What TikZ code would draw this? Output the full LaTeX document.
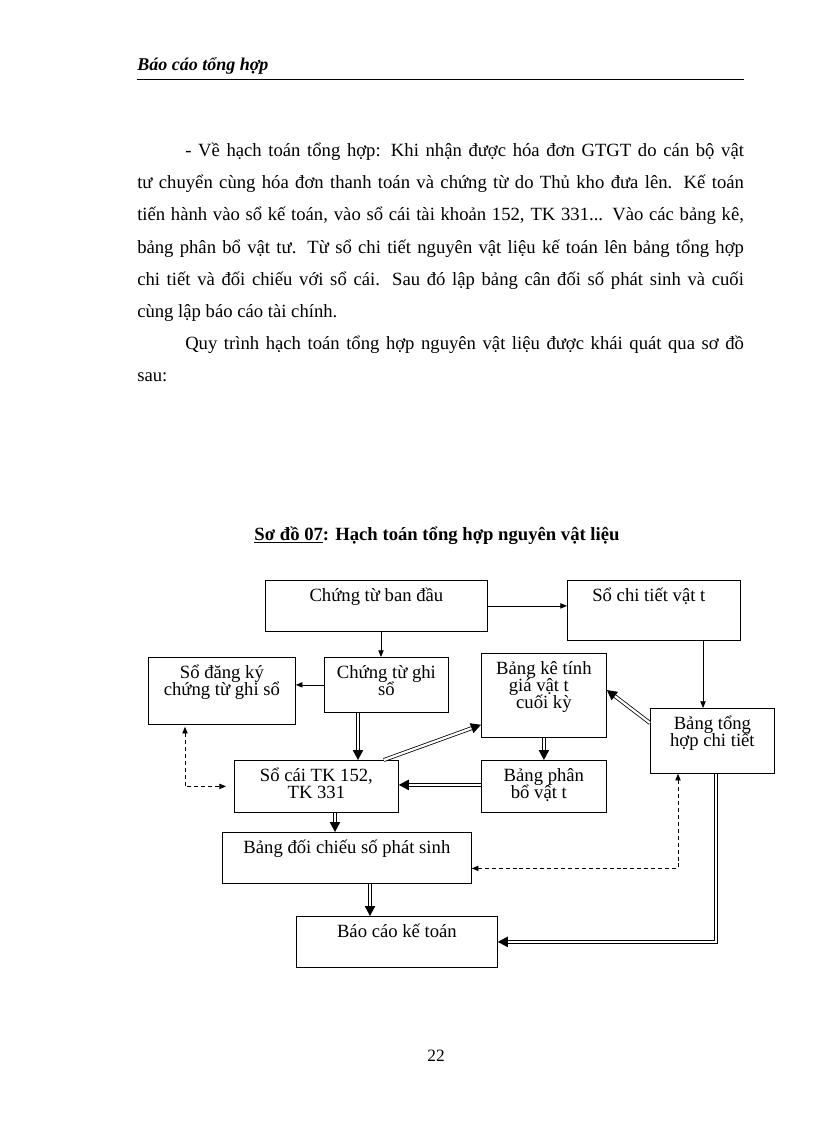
\documentclass[tikz,border=0pt]{standalone}
\usepackage{fontspec}
\setmainfont{Liberation Serif}
\usetikzlibrary{arrows.meta,calc,decorations.markings}

% text of a box, set from the top edge down
\newcommand{\boxtxt}[3]{\parbox[c][#2][t]{#1}{\centering\fontsize{14pt}{12.75pt}\selectfont
  \lineskiplimit=-\maxdimen \rule{0pt}{15.75pt}#3\par}}
% the lost letter still takes its room
\newcommand{\lost}{\hphantom{ư}}

\begin{document}
\begin{tikzpicture}[x=0.75pt,y=-0.75pt,
  every node/.style={inner sep=0pt,font=\fontsize{14pt}{16pt}\selectfont},
  box/.style={draw,line width=0.6pt,anchor=north west},
  sgl/.style={line width=0.6pt,-{Triangle[length=5pt,width=4pt]}},
  dsh/.style={line width=0.6pt,dash pattern=on 3pt off 2.2pt,
    {Triangle[length=5pt,width=4pt]}-{Triangle[length=5pt,width=4pt]}},
  dbl/.style={line width=0.6pt,double,double distance=1.7pt,shorten >=6pt,
    postaction={decorate},decoration={markings,mark=at position 1 with
      {\fill[shorten >=0pt,shorten <=0pt] (0,0) -- (-7.5pt,4pt) -- (-7.5pt,-4pt) -- cycle;}}}]
\useasboundingbox (0,0) rectangle (816,1123);
% page head
\node[anchor=base west,font=\fontsize{13.5pt}{16pt}\selectfont\bfseries\itshape] (hdr) at (137,71) {Báo cáo tổng hợp};
\draw[line width=0.6pt] (137,79) -- (744,79);
% text
\node[anchor=base west] (body) at (137,156.7) {\parbox[t]{455pt}{\fontsize{14pt}{24.1pt}\selectfont
\hspace*{36pt}\makebox[419pt][s]{- Về hạch toán tổng hợp: Khi nhận được hóa đơn GTGT do cán bộ vật}\\
\makebox[455pt][s]{tư chuyển cùng hóa đơn thanh toán và chứng từ do Thủ kho đưa lên. Kế toán}\\
\makebox[455pt][s]{tiến hành vào sổ kế toán, vào sổ cái tài khoản 152, TK 331... Vào các bảng kê,}\\
\makebox[455pt][s]{bảng phân bổ vật tư. Từ sổ chi tiết nguyên vật liệu kế toán lên bảng tổng hợp}\\
\makebox[455pt][s]{chi tiết và đối chiếu với sổ cái. Sau đó lập bảng cân đối số phát sinh và cuối}\\
cùng lập báo cáo tài chính.\\
\hspace*{36pt}\makebox[419pt][s]{Quy trình hạch toán tổng hợp nguyên vật liệu được khái quát qua sơ đồ}\\
sau:}};
% title
\node[anchor=base,font=\fontsize{14pt}{16pt}\selectfont\bfseries] (title) at (437,540.7) {\underline{Sơ đồ 07}: Hạch toán tổng hợp nguyên vật liệu};
% boxes
\node[box] (cbd)  at (265,580) {\boxtxt{166.5pt}{38.25pt}{Chứng từ ban đầu}};
\node[box] (sct)  at (567,580) {\boxtxt{129.75pt}{45pt}{Sổ chi tiết vật t\lost}};
\node[box] (sdk)  at (148,657) {\boxtxt{110.25pt}{50.25pt}{Sổ đăng ký\\chứng từ ghi sổ}};
\node[box] (ctgs) at (324,657) {\boxtxt{93pt}{41.25pt}{Chứng từ ghi\\sổ}};
\node[box] (bke)  at (481,653) {\boxtxt{93.75pt}{63pt}{Bảng kê tính\\giá vật t\lost\\cuối kỳ}};
\node[box] (bth)  at (650,708) {\boxtxt{93pt}{48.75pt}{Bảng tổng\\hợp chi tiết}};
\node[box] (sc)   at (234,760) {\boxtxt{123pt}{39pt}{Sổ cái TK 152,\\TK 331}};
\node[box] (bpb)  at (481,760) {\boxtxt{93.75pt}{39pt}{Bảng phân\\bổ vật t\lost}};
\node[box] (bdc)  at (222,832) {\boxtxt{186.75pt}{38.25pt}{Bảng đối chiếu số phát sinh}};
\node[box] (bckt) at (296,916) {\boxtxt{150.75pt}{38.25pt}{Báo cáo kế toán}};
% points on the box edges
\coordinate (ctgsn) at ($(ctgs.north west)+(57,0)$);
\coordinate (ctgss) at ($(ctgs.south west)+(34,0)$);
\coordinate (bthn)  at ($(bth.north west)+(53,0)$);
\coordinate (bths)  at ($(bth.south west)+(66,0)$);
\coordinate (bthd)  at ($(bth.south west)+(28,0)$);
\coordinate (scs)   at ($(sc.south west)+(101,0)$);
\coordinate (bdcs)  at ($(bdc.south west)+(148,0)$);
\coordinate (sdkd)  at ($(sdk.south west)+(37,0)$);
% single arrows
\draw[sgl] (cbd.east) -- (cbd.east -| sct.west);
\draw[sgl] (ctgsn |- cbd.south) -- (ctgsn);
\draw[sgl] (ctgs.west) -- (ctgs.west -| sdk.east);
\draw[sgl] (bthn |- sct.south) -- (bthn);
% double arrows
\draw[dbl] (ctgss) -- (ctgss |- sc.north);
\draw[dbl] ($(sc.north east)+(-15,0)$) -- ($(bke.south west)+(0,-13)$);
\draw[dbl] ($(bth.north west)+(0,15)$) -- ($(bke.north east)+(0,37)$);
\draw[dbl] (bke.south) -- (bpb.north);
\draw[dbl] ($(bpb.west)+(0,-1.5)$) -- ($(bpb.west -| sc.east)+(0,-1.5)$);
\draw[dbl,shorten >=5pt] (scs) -- (scs |- bdc.north);
\draw[dbl] (bdcs) -- (bdcs |- bckt.north);
\draw[dbl] (bths) |- (bckt.east);
% dashed
\draw[dsh,shorten <=1.5pt,shorten >=6pt] (sdkd) |- (sc.west);
\draw[dsh] (bthd) |- ($(bdc.east)+(0,10.5)$);
% page number
\node[anchor=base,font=\fontsize{13pt}{16pt}\selectfont] (pgno) at (436,1061.7) {22};
\end{tikzpicture}
\end{document}
